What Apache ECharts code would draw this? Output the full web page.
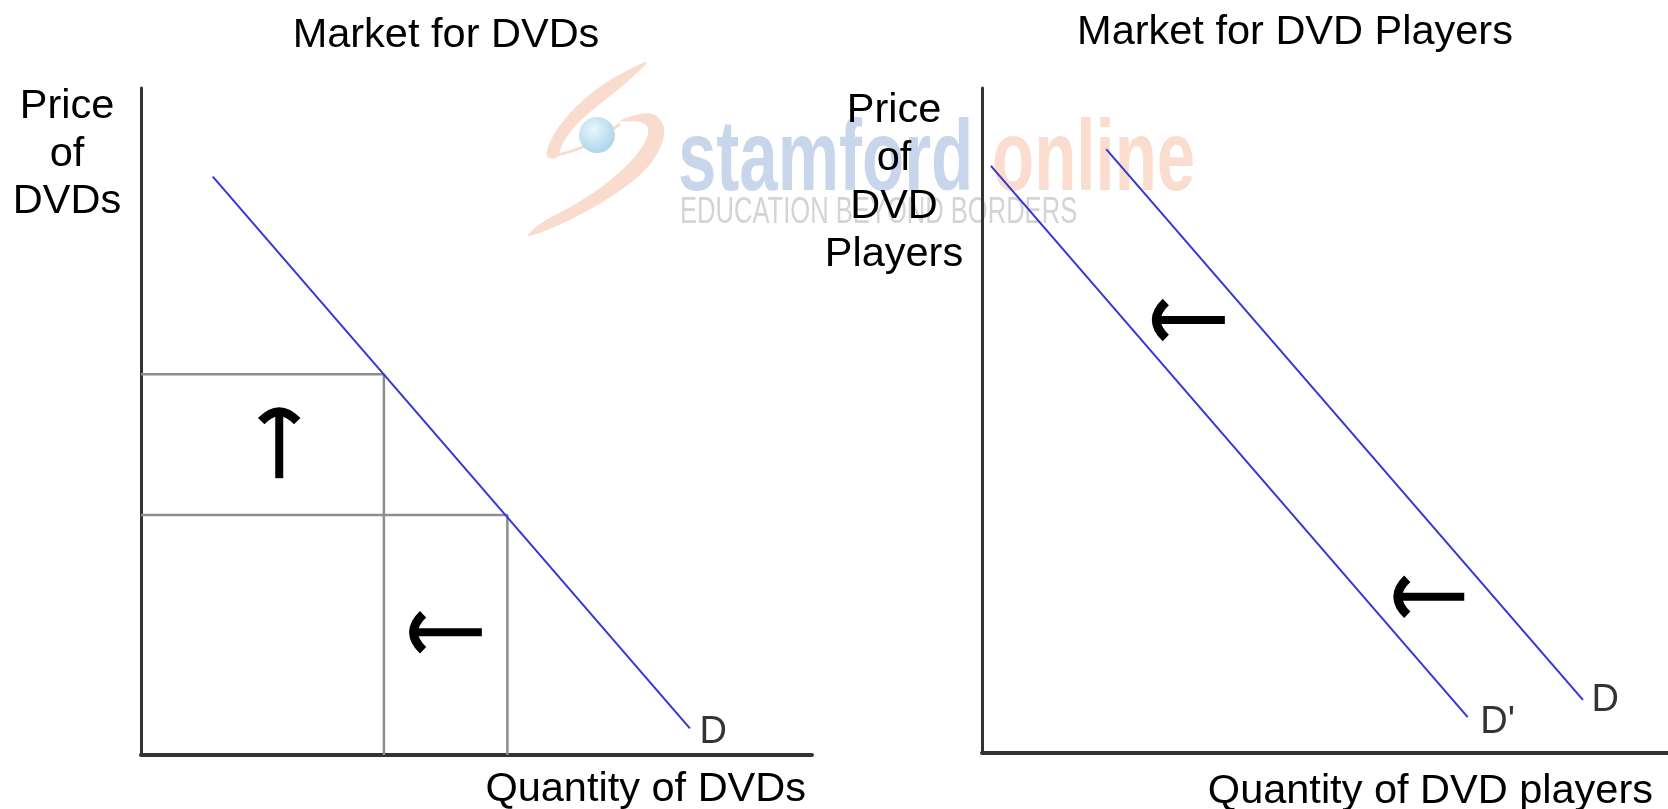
<!DOCTYPE html>
<html><head><meta charset="utf-8">
<script src="https://cdn.jsdelivr.net/npm/echarts@6/dist/echarts.min.js"></script>
<style>html,body{margin:0;padding:0;background:#fff}#main{width:1668px;height:809px}</style>
</head><body><div id="main"></div>
<script>
// ---- text ----
const titles = ['Market for DVDs', 'Market for DVD Players'];
const yAxisTitles = ['Price\nof\nDVDs', 'Price\nof\nDVD\nPlayers'];
const xAxisTitles = ['Quantity of DVDs', 'Quantity of DVD players'];
const curveLabels = ['D', "D'", 'D'];
// ---- left market: DVDs ----
const dvdDemand = [[1.07, 8.67], [8.18, 0.40]];
const dvdPriceHigh = [[0, 5.71], [3.62, 5.71], [3.62, 0]];
const dvdPriceLow = [[0, 3.60], [5.46, 3.60], [5.46, 0]];
const dvdArrows = [[2.06, 5.20, 2.06, 4.15], [4.01, 1.84, 5.08, 1.84]]; // tipX, tipY, tailX, tailY
// ---- right market: DVD players ----
const playerDemandNew = [[0.13, 8.83], [7.08, 0.54]];
const playerDemand = [[1.81, 9.08], [8.76, 0.80]];
const playerArrows = [[2.49, 6.51, 3.54, 6.51], [6.01, 2.35, 7.03, 2.35]];

const FONT = '"Liberation Sans", Arial, sans-serif';
const FS = 41.5;
const BLUE = '#3535d8';
const GRAY = '#8e8e8e';
const AXIS = '#333333';
const SWOOSH = '#f9dccd';

function renderArrow(params, api) {
  const tip = api.coord([api.value(0), api.value(1)]);
  const tail = api.coord([api.value(2), api.value(3)]);
  const dx = tail[0] - tip[0], dy = tail[1] - tip[1];
  const len = Math.hypot(dx, dy);
  const ux = dx / len, uy = dy / len, nx = -uy, ny = ux;
  const depth = 13, half = 18;
  return {
    type: 'group',
    children: [
      { type: 'line', shape: { x1: tip[0] + 2 * ux, y1: tip[1] + 2 * uy, x2: tail[0], y2: tail[1] },
        style: { stroke: '#000', lineWidth: 8 } },
      { type: 'bezierCurve', shape: {
          x1: tip[0] + depth * ux + half * nx, y1: tip[1] + depth * uy + half * ny,
          cpx1: tip[0] - 6 * ux, cpy1: tip[1] - 6 * uy,
          x2: tip[0] + depth * ux - half * nx, y2: tip[1] + depth * uy - half * ny },
        style: { stroke: '#000', lineWidth: 9, fill: 'none' } }
    ]
  };
}

function axisPair(idx, xw, yw) {
  return {
    x: { type: 'value', gridIndex: idx, min: 0, max: 10, splitLine: { show: false }, axisTick: { show: false },
         axisLabel: { show: false }, axisLine: { lineStyle: { color: AXIS, width: xw } } },
    y: { type: 'value', gridIndex: idx, min: 0, max: 10, splitLine: { show: false }, axisTick: { show: false },
         axisLabel: { show: false }, axisLine: { lineStyle: { color: AXIS, width: yw } } }
  };
}
const a0 = axisPair(0, 4, 3), a1 = axisPair(1, 4, 3);

function lineSeries(data, axis, color, width, z) {
  return { type: 'line', xAxisIndex: axis, yAxisIndex: axis, data: data, symbol: 'none', silent: true,
           lineStyle: { color: color, width: width }, z: z };
}
function labelSeries(point, axis, text, dist, dy) {
  return { type: 'scatter', xAxisIndex: axis, yAxisIndex: axis, data: [point], symbolSize: 1, silent: true,
           itemStyle: { color: 'rgba(0,0,0,0)' }, z: 5,
           label: { show: true, position: 'right', distance: dist, offset: [0, dy], formatter: text,
                    color: '#000', fontSize: 38, fontFamily: FONT } };
}

const chart = echarts.init(document.getElementById('main'));
chart.setOption({
  backgroundColor: '#ffffff',
  animation: false,
  title: [
    { text: titles[0], left: 446, top: 15, textAlign: 'center', textVerticalAlign: 'top', padding: 0,
      textStyle: { fontSize: FS, fontWeight: 'normal', color: '#000', fontFamily: FONT } },
    { text: titles[1], left: 1295, top: 11.5, textAlign: 'center', textVerticalAlign: 'top', padding: 0,
      textStyle: { fontSize: FS, fontWeight: 'normal', color: '#000', fontFamily: FONT } }
  ],
  grid: [
    { left: 141, top: 88, width: 671, height: 667 },
    { left: 982, top: 88, width: 686, height: 665 }
  ],
  xAxis: [a0.x, a1.x],
  yAxis: [a0.y, a1.y],
  series: [
    lineSeries(dvdPriceHigh, 0, GRAY, 2.5, 2),
    lineSeries(dvdPriceLow, 0, GRAY, 2.5, 2),
    lineSeries(dvdDemand, 0, BLUE, 2, 3),
    labelSeries(dvdDemand[1], 0, curveLabels[0], 9, 4),
    { type: 'custom', xAxisIndex: 0, yAxisIndex: 0, data: dvdArrows, renderItem: renderArrow, silent: true, z: 4,
      encode: { x: [0, 2], y: [1, 3] } },
    lineSeries(playerDemandNew, 1, BLUE, 2, 3),
    lineSeries(playerDemand, 1, BLUE, 2, 3),
    labelSeries(playerDemandNew[1], 1, curveLabels[1], 12, 5),
    labelSeries(playerDemand[1], 1, curveLabels[2], 8, 1),
    { type: 'custom', xAxisIndex: 1, yAxisIndex: 1, data: playerArrows, renderItem: renderArrow, silent: true, z: 4,
      encode: { x: [0, 2], y: [1, 3] } }
  ],
  graphic: [
    // watermark
    { type: 'polygon', z: -10, silent: true,
      shape: { smooth: 0.35, points: [[647,62],[617,76],[588,96],[564,120],[550,142],[547,156],[556,158],[563,143],[577,124],[600,104],[626,83]] },
      style: { fill: SWOOSH } },
    { type: 'polyline', z: -10, silent: true,
      shape: { smooth: 0.4, points: [[553,156],[585,146],[620,124]] },
      style: { stroke: SWOOSH, lineWidth: 3, fill: 'none' } },
    { type: 'polygon', z: -10, silent: true,
      shape: { smooth: 0.35, points: [[620,121],[640,114],[655,115],[664,128],[660,148],[645,170],[618,192],[585,212],[552,228],[528,236],[540,224],[572,206],[604,185],[630,162],[645,142],[648,128],[640,122]] },
      style: { fill: SWOOSH } },
    { type: 'circle', z: -9, silent: true, shape: { cx: 597, cy: 135, r: 18 },
      style: { fill: { type: 'radial', x: 0.4, y: 0.35, r: 0.75,
        colorStops: [{ offset: 0, color: '#e8f5fc' }, { offset: 1, color: '#a6d1ea' }] } } },
    { type: 'text', z: -9, silent: true, x: 678, y: 162, scaleX: 0.69,
      style: { text: 'stamford', fill: '#c8d6eb', fontSize: 100, fontWeight: 'bold', fontFamily: FONT,
               align: 'left', verticalAlign: 'middle' } },
    { type: 'text', z: -9, silent: true, x: 992, y: 162, scaleX: 0.69,
      style: { text: 'online', fill: '#fbddd0', fontSize: 100, fontWeight: 'bold', fontFamily: FONT,
               align: 'left', verticalAlign: 'middle' } },
    { type: 'text', z: -9, silent: true, x: 680, y: 213.5, scaleX: 0.71,
      style: { text: 'EDUCATION BEYOND BORDERS', fill: '#d4d4d4', fontSize: 36, fontFamily: FONT,
               align: 'left', verticalAlign: 'middle' } },
    // axis titles
    { type: 'text', z: 100, silent: true, x: 67, y: 83,
      style: { text: yAxisTitles[0], fill: '#000', fontSize: FS, fontFamily: FONT, lineHeight: 47.5,
               align: 'center', verticalAlign: 'top' } },
    { type: 'text', z: 100, silent: true, x: 894, y: 86.5,
      style: { text: yAxisTitles[1], fill: '#000', fontSize: FS, fontFamily: FONT, lineHeight: 48,
               align: 'center', verticalAlign: 'top' } },
    { type: 'text', z: 100, silent: true, x: 806, y: 769,
      style: { text: xAxisTitles[0], fill: '#000', fontSize: FS, fontFamily: FONT,
               align: 'right', verticalAlign: 'top' } },
    { type: 'text', z: 100, silent: true, x: 1653, y: 771,
      style: { text: xAxisTitles[1], fill: '#000', fontSize: FS, fontFamily: FONT,
               align: 'right', verticalAlign: 'top' } }
  ]
});
</script>
</body></html>
